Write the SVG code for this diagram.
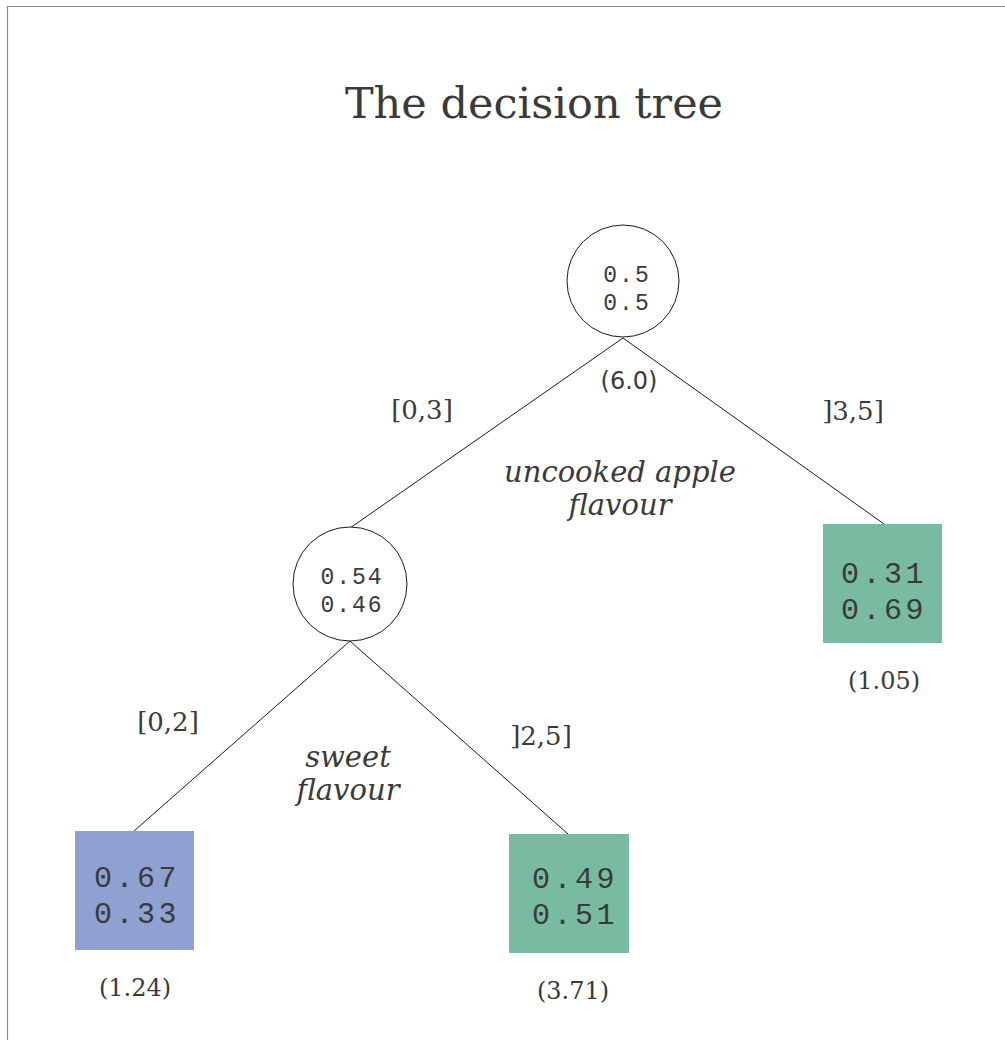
<svg xmlns="http://www.w3.org/2000/svg" width="1005" height="1040" viewBox="0 0 1005 1040">
  <style>
    .frame { fill: none; stroke: #8a8a8a; stroke-width: 1.2; }
    .edge { stroke: #1a1a1a; stroke-width: 1; fill: none; }
    .split { fill: #ffffff; stroke: #1a1a1a; stroke-width: 1; }
    .leaf-green { fill: #79bba1; }
    .leaf-blue { fill: #8fa1d1; }
    .title { font-family: "DejaVu Serif", "Liberation Serif", serif; font-size: 43px; fill: #3a3a3a; text-anchor: middle; }
    .range { font-family: "DejaVu Serif", "Liberation Serif", serif; font-size: 26px; fill: #3a3a3a; text-anchor: middle; }
    .feature { font-family: "DejaVu Serif", "Liberation Serif", serif; font-style: italic; font-size: 29px; fill: #3a3a3a; text-anchor: middle; }
    .weight { font-family: "DejaVu Serif", "Liberation Serif", serif; font-size: 24px; fill: #3a3a3a; text-anchor: middle; }
    .weight-sans { font-family: "DejaVu Sans", "Liberation Sans", sans-serif; font-size: 24px; fill: #3a3a3a; text-anchor: middle; }
    .prob-s { font-family: "Liberation Mono", "DejaVu Sans Mono", monospace; font-size: 23px; letter-spacing: 2px; fill: #3a3a3a; text-anchor: middle; }
    .prob-l { font-family: "Liberation Mono", "DejaVu Sans Mono", monospace; font-size: 30px; letter-spacing: 3.5px; fill: #3a3a3a; text-anchor: middle; }
  </style>

  <!-- outer frame (open on the right and bottom) -->
  <path class="frame" d="M7.5,1040 V6.5 H1005"/>

  <text class="title" x="534" y="118">The decision tree</text>

  <!-- connectors -->
  <g id="edges">
    <line class="edge" x1="623" y1="338" x2="350" y2="528"/>
    <line class="edge" x1="623" y1="338" x2="884" y2="524"/>
    <line class="edge" x1="350" y1="641" x2="134" y2="831"/>
    <line class="edge" x1="350" y1="641" x2="568" y2="834"/>
    <text class="range" x="422" y="419">[0,3]</text>
    <text class="range" x="853" y="420">]3,5]</text>
    <text class="range" x="168" y="731">[0,2]</text>
    <text class="range" x="541" y="745">]2,5]</text>
  </g>

  <!-- root split -->
  <g id="root">
    <circle class="split" cx="623" cy="281" r="56"/>
    <text class="prob-s" x="627" y="282">0.5</text>
    <text class="prob-s" x="627" y="310">0.5</text>
    <text class="weight-sans" x="629" y="389">(6.0)</text>
    <text class="feature" x="620" y="482">uncooked apple</text>
    <text class="feature" x="620" y="515">flavour</text>
  </g>

  <!-- second split -->
  <g id="split2">
    <circle class="split" cx="350" cy="584" r="57"/>
    <text class="prob-s" x="352" y="584">0.54</text>
    <text class="prob-s" x="352" y="612">0.46</text>
    <text class="feature" x="348" y="767">sweet</text>
    <text class="feature" x="348" y="800">flavour</text>
  </g>

  <!-- leaf: ]3,5] -->
  <g id="leaf-right">
    <rect class="leaf-green" x="823" y="524" width="119" height="119"/>
    <text class="prob-l" x="884" y="583">0.31</text>
    <text class="prob-l" x="884" y="619">0.69</text>
    <text class="weight" x="884" y="689">(1.05)</text>
  </g>

  <!-- leaf: [0,2] -->
  <g id="leaf-left">
    <rect class="leaf-blue" x="75" y="831" width="119" height="119"/>
    <text class="prob-l" x="137" y="887">0.67</text>
    <text class="prob-l" x="137" y="923">0.33</text>
    <text class="weight" x="135" y="996">(1.24)</text>
  </g>

  <!-- leaf: ]2,5] -->
  <g id="leaf-mid">
    <rect class="leaf-green" x="509" y="834" width="120" height="119"/>
    <text class="prob-l" x="575" y="888">0.49</text>
    <text class="prob-l" x="575" y="924">0.51</text>
    <text class="weight" x="573" y="999">(3.71)</text>
  </g>
</svg>
